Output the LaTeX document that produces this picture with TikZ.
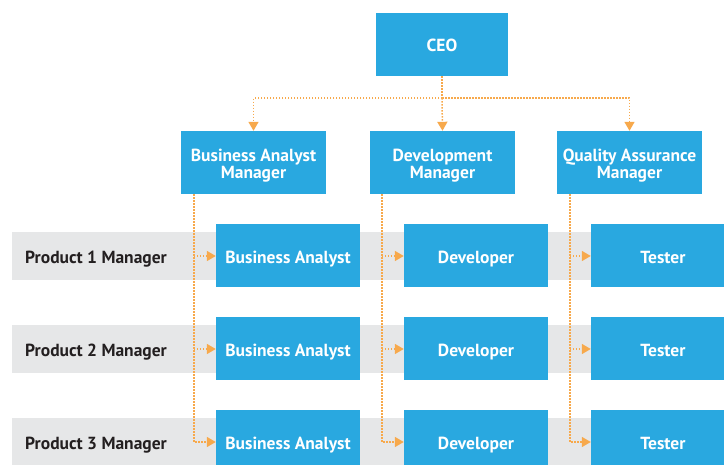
\documentclass[tikz,border=0pt]{standalone}
\usepackage{fontspec}
\setmainfont{PT Sans}
\usetikzlibrary{arrows.meta,positioning}
\definecolor{boxblue}{RGB}{41,168,224}
\definecolor{bandgray}{RGB}{230,231,232}
\definecolor{dotorange}{RGB}{247,169,76}
\definecolor{ink}{RGB}{35,31,32}

\begin{document}
\begin{tikzpicture}[x=1pt,y=-1pt,
	box/.style={fill=boxblue,text=white,font=\bfseries\fontsize{17.5}{17}\selectfont,
		minimum width=145pt,minimum height=63pt,inner sep=0pt,align=center},
	twoline/.style={text height=34pt,text depth=2pt},
	oneline/.style={minimum width=144pt,text height=16pt,text depth=1pt},
	rowlabel/.style={text=ink,font=\bfseries\fontsize{17.5}{17}\selectfont,inner sep=0pt,
		anchor=west,text height=16pt,text depth=1pt},
	feed/.style={draw=dotorange,line width=1.5pt,dash pattern=on 1.5pt off 1.5pt,
		-{Triangle[length=9pt,width=10pt,fill=dotorange]}},
	line/.style={draw=dotorange,line width=1.5pt,dash pattern=on 1.5pt off 1.5pt}]
	\useasboundingbox (0,0) rectangle (724,465);
	\clip (0,0) rectangle (724,465);

	% top level
	\node[box,oneline,minimum width=132pt] (ceo) at (442,44.5) {CEO};
	\node[box,twoline] (bam) at (253.5,162.5) {Business Analyst\\Manager};
	\node[box,twoline] (dvm) at (442.5,162.5) {Development\\Manager};
	\node[box,twoline] (qam) at (629.5,162.5) {Quality Assurance\\Manager};

	% one band per product
	\foreach \r/\y in {1/256,2/349,3/442} {
		\fill[bandgray] (12,\y-24) rectangle (724,\y+24);
		\node[rowlabel] (pm\r) at (25,\y) {Product \r\ Manager};
		\node[box,oneline] (ba\r) at (288,\y) {Business Analyst};
		\node[box,oneline] (dev\r) at (476,\y) {Developer};
		\node[box,oneline] (qa\r) at (663,\y) {Tester};
	}

	% ceo to managers
	\draw[line] (ceo.south) -- ++(0,22) coordinate (hub);
	\draw[feed] (hub) -| (bam.north);
	\draw[feed] (hub) -- (dvm.north);
	\draw[feed] (hub) -| (qam.north);

	% managers to staff
	\coordinate (bat) at ([xshift=13pt]bam.south west);
	\coordinate (dvt) at ([xshift=12pt]dvm.south west);
	\coordinate (qat) at ([xshift=13pt]qam.south west);
	\foreach \m/\s in {bat/ba,dvt/dev,qat/qa} {
		\draw[feed] (\m) |- (\s3.west);
		\draw[feed] (\m |- \s1.west) -- (\s1.west);
		\draw[feed] (\m |- \s2.west) -- (\s2.west);
	}
\end{tikzpicture}
\end{document}
